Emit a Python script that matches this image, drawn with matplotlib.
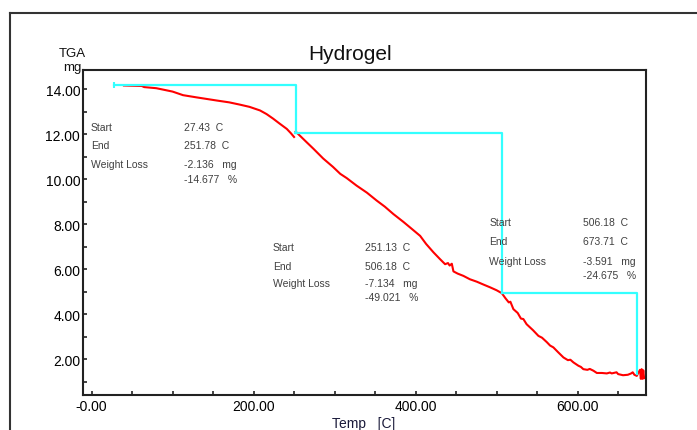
import matplotlib
matplotlib.use("Agg")
import matplotlib.pyplot as plt
from matplotlib.lines import Line2D
from matplotlib.ticker import MultipleLocator

plt.rcParams['font.family'] = ['Liberation Sans', 'DejaVu Sans']

# ---- data ----
temp_seg1 = [40, 50, 62, 65, 80, 100, 113, 130, 155, 170, 183, 195, 208, 216, 224, 232, 241, 246, 250]
mass_seg1 = [14.17, 14.16, 14.15, 14.10, 14.05, 13.90, 13.74, 13.64, 13.50, 13.42, 13.32, 13.22, 13.06,
             12.90, 12.70, 12.48, 12.24, 12.05, 11.88]

temp_seg2 = [252, 256, 265.7, 273.8, 286, 298, 307, 315, 327, 340, 352, 362, 372.6, 385, 395, 405.6,
             413, 422, 430, 436.4, 440, 442, 444.7, 446.7, 452, 459, 467, 475.6, 484, 492, 500, 506.4,
             511, 515, 517, 520.7, 526, 530, 533, 537, 545, 551.6, 556, 562, 566, 570, 576, 582.5,
             588, 591, 594.8, 601, 604, 607, 612, 615, 619.5, 623.7, 630, 636, 640, 642, 648, 650,
             656, 662, 666, 668, 670, 673, 675, 677, 678, 679, 680, 681, 682]
mass_seg2 = [12.12, 11.98, 11.64, 11.36, 10.92, 10.55, 10.24, 10.05, 9.72, 9.40, 9.05, 8.78, 8.45, 8.10,
             7.80, 7.48, 7.12, 6.75, 6.45, 6.22, 6.27, 6.16, 6.24, 5.90, 5.80, 5.70, 5.55, 5.44, 5.31,
             5.19, 5.06, 4.93, 4.70, 4.52, 4.55, 4.22, 4.05, 3.80, 3.78, 3.55, 3.28, 3.03, 2.95, 2.75,
             2.60, 2.52, 2.30, 2.07, 1.95, 1.97, 1.85, 1.70, 1.65, 1.55, 1.52, 1.56, 1.48, 1.38, 1.38,
             1.36, 1.40, 1.36, 1.41, 1.33, 1.28, 1.30, 1.36, 1.41, 1.30, 1.25, 1.40, 1.52, 1.12, 1.55,
             1.12, 1.50, 1.15]

step_start = [27.43, 251.13, 506.18]
step_end = [251.78, 506.18, 673.71]
step_top = [14.196, 12.06, 4.926]
loss_mg = [-2.136, -7.134, -3.591]
loss_pct = [-14.677, -49.021, -24.675]

x_ticks = [0, 200, 400, 600]
x_tick_labels = ["-0.00", "200.00", "400.00", "600.00"]
y_ticks = [2, 4, 6, 8, 10, 12, 14]
y_tick_labels = ["2.00", "4.00", "6.00", "8.00", "10.00", "12.00", "14.00"]

# ---- figure ----
W, H = 697, 431
fig = plt.figure(figsize=(W / 100, H / 100), dpi=100)
fig.patch.set_facecolor('white')

def fx(px):
    return px / W

def fy(py):
    return 1 - py / H

ax = fig.add_axes([fx(83), fy(396), fx(645.7) - fx(83), fy(71) - fy(396)])
ax.set_xlim(-10.5, 684)
ax.set_ylim(0.40, 14.86)

ax.plot(temp_seg1, mass_seg1, color='#ff0000', lw=1.5, zorder=2)
ax.plot(temp_seg2, mass_seg2, color='#ff0000', lw=1.5, zorder=2)

for i in range(3):
    bottom = step_top[i] + loss_mg[i]
    ax.plot([step_start[i], step_end[i], step_end[i]], [step_top[i], step_top[i], bottom],
            color='#33ffff', lw=1.6, zorder=3)
ax.plot([step_start[0]], [step_top[0]], marker='|', color='#33ffff', ms=5, mew=1.5, zorder=3)

# annotations
label_x = [-1.0, 223.7, 490.7]
value_x = [114.6, 337.7, 607.2]
row_y = [[12.31, 11.53, 10.67, 10.00],
         [6.97, 6.15, 5.37, 4.76],
         [8.09, 7.25, 6.37, 5.74]]
tc = '#404040'
fs = 7.5
for i in range(3):
    ry = row_y[i]
    for lab, yy in zip(["Start", "End", "Weight Loss"], ry[:3]):
        ax.text(label_x[i], yy, lab, fontsize=fs, color=tc, va='center', ha='left')
    ax.text(value_x[i], ry[0], f"{step_start[i]:.2f}  C", fontsize=fs, color=tc, va='center', ha='left')
    ax.text(value_x[i], ry[1], f"{step_end[i]:.2f}  C", fontsize=fs, color=tc, va='center', ha='left')
    ax.text(value_x[i], ry[2], f"{loss_mg[i]:.3f}   mg", fontsize=fs, color=tc, va='center', ha='left')
    ax.text(value_x[i], ry[3], f"{loss_pct[i]:.3f}   %", fontsize=fs, color=tc, va='center', ha='left')

# ticks
ax.set_xticks(x_ticks)
ax.set_xticklabels(x_tick_labels)
ax.set_yticks(y_ticks)
ax.set_yticklabels(y_tick_labels)
ax.xaxis.set_minor_locator(MultipleLocator(50))
ax.yaxis.set_minor_locator(MultipleLocator(1))
ax.tick_params(which='both', direction='in', length=3, width=1.2, color='#222222')
ax.tick_params(axis='x', which='both', top=False, labelsize=10, pad=3)
ax.tick_params(axis='y', which='both', right=False, labelsize=10, pad=2)
for s in ax.spines.values():
    s.set_linewidth(1.5)
    s.set_color('#222222')

# texts
fig.text(fx(349.7), fy(60), "Hydrogel", fontsize=15, ha='center', va='baseline', color='#111111')
fig.text(fx(72), fy(57), "TGA", fontsize=9.5, ha='center', va='baseline', color='#111111')
fig.text(fx(72), fy(71), "mg", fontsize=9.5, ha='center', va='baseline', color='#111111', zorder=-1)
fig.text(fx(364), fy(428), "Temp   [C]", fontsize=10, ha='center', va='baseline', color='#1a1a3a')

# outer frame
fig.add_artist(Line2D([fx(10), fx(10)], [fy(14), 0], transform=fig.transFigure, color='#333333', lw=1.5))
fig.add_artist(Line2D([fx(10), 1], [fy(14), fy(14)], transform=fig.transFigure, color='#333333', lw=1.5))

fig.savefig("out.png", dpi=100, facecolor='white')
